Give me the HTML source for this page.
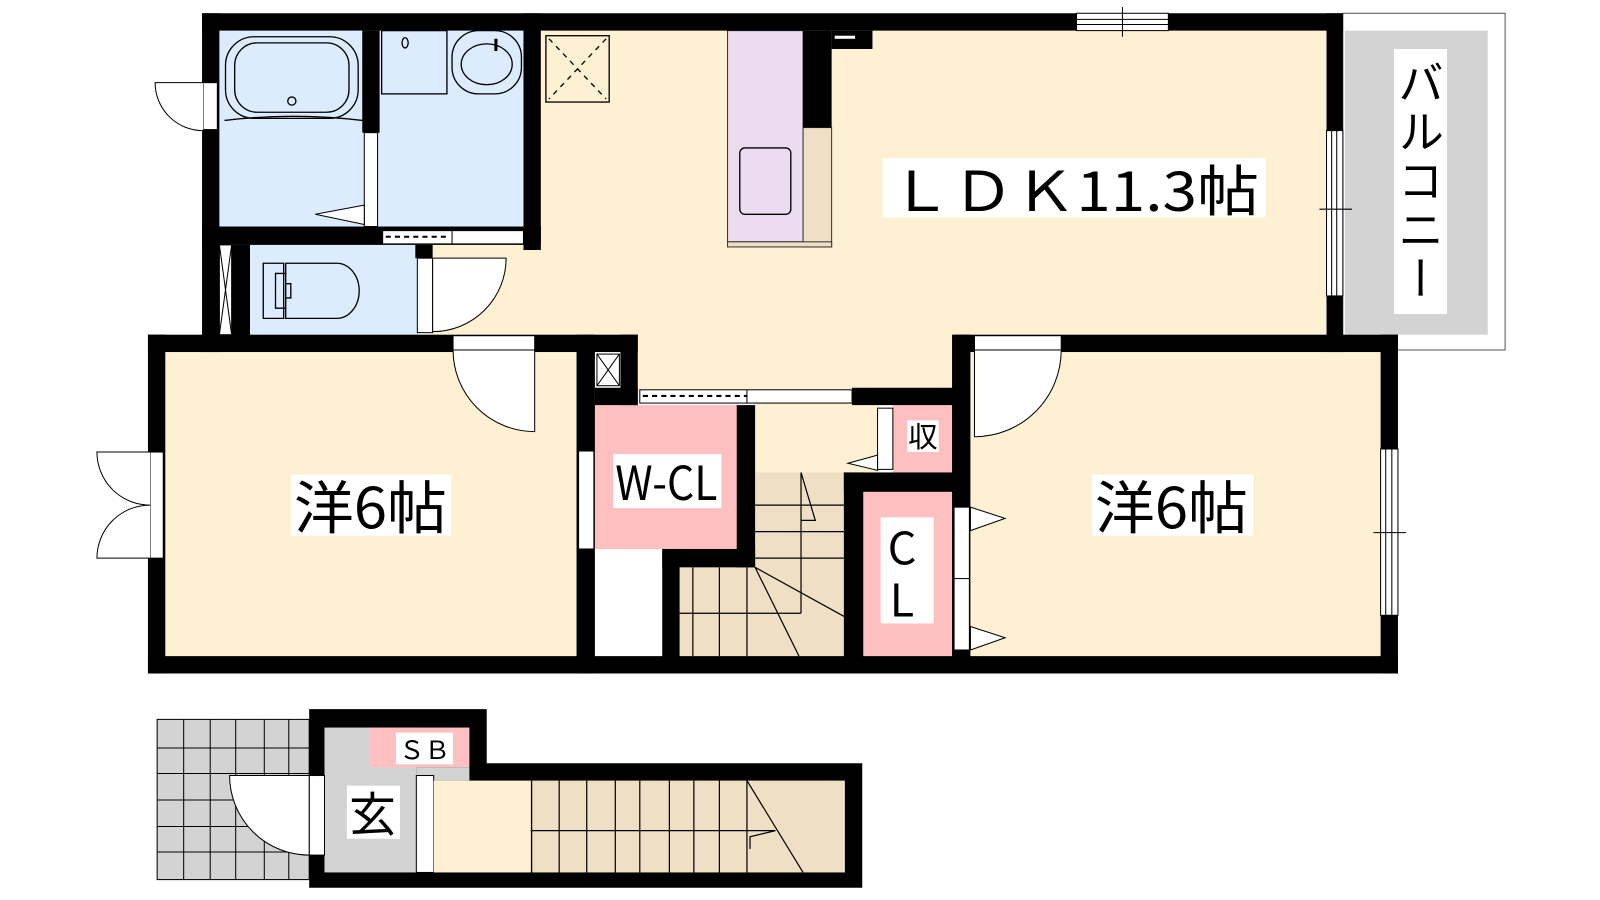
<!DOCTYPE html>
<html><head><meta charset="utf-8"><style>
html,body{margin:0;padding:0;background:#fff;width:1600px;height:900px;overflow:hidden;position:relative}
svg{position:absolute;left:0;top:0}
.bal{position:absolute;left:1394px;top:49px;width:53px;height:265px;background:#fff;writing-mode:vertical-rl;font-family:"Noto Sans CJK JP",sans-serif;font-size:46px;line-height:53px;text-align:center;letter-spacing:3px;color:#000}
</style></head><body>
<svg width="1600" height="900" viewBox="0 0 1568 882" xmlns="http://www.w3.org/2000/svg" font-family="'Liberation Sans','Noto Sans CJK JP',sans-serif">
<g stroke="none">
<rect x="1316" y="13" width="159" height="330" fill="#fff" stroke="#555" stroke-width="1"/>
<rect x="1318" y="30" width="140" height="298" fill="#d3d3d3"/>
<rect x="215" y="30" width="300" height="195" fill="#dcebfd"/>
<rect x="245" y="240" width="165" height="88" fill="#dcebfd"/>
<rect x="530" y="30" width="772" height="300" fill="#fef1d3"/>
<rect x="424" y="240" width="110" height="90" fill="#fef1d3"/>
<rect x="625" y="328" width="312" height="55" fill="#fef1d3"/>
<rect x="740" y="395" width="122" height="70" fill="#fef1d3"/>
<rect x="162" y="345" width="405" height="300" fill="#fef1d3"/>
<rect x="951" y="345" width="404" height="300" fill="#fef1d3"/>
<rect x="583" y="397" width="140" height="141" fill="#fdbfbf"/>
<rect x="875" y="397" width="60" height="68" fill="#fdbfbf"/>
<rect x="846" y="482" width="89" height="163" fill="#fdbfbf"/>
<rect x="583" y="538" width="66" height="105" fill="#fff"/>
<rect x="740" y="463" width="88" height="182" fill="#efdfc5"/>
<rect x="666" y="556" width="80" height="89" fill="#efdfc5"/>
<rect x="713" y="30" width="74" height="207" fill="#ebdcf2" stroke="#333" stroke-width="1"/>
<rect x="787" y="125" width="28" height="117" fill="#efdfc5" stroke="#333" stroke-width="1"/>
<rect x="713" y="237" width="102" height="5" fill="#efdfc5" stroke="#333" stroke-width="1"/>
</g>
<g fill="none" stroke="#000" stroke-width="1.3">
<rect x="725" y="145" width="50" height="65" rx="5"/>
<rect x="535" y="35" width="62" height="65"/>
<path d="M538 38 L594 97 M594 38 L538 97" stroke-dasharray="5 5"/>
<rect x="221" y="36" width="130" height="80" rx="28"/>
<rect x="230" y="42" width="112" height="68" rx="22"/>
<circle cx="286" cy="99" r="4"/>
<path d="M220 118 Q286 110 355 118"/>
<rect x="374" y="30" width="64" height="62"/>
<ellipse cx="397" cy="42" rx="3" ry="5"/>
<rect x="443" y="30" width="68" height="62" rx="26"/>
<ellipse cx="477" cy="63" rx="25" ry="20"/>
<line x1="486" y1="38" x2="486" y2="50" stroke-width="3"/>
<path d="M258 258 h20 v54 h-20 z M270 268 h10 v34 h-10 z M280 258 h50 a22 27 0 0 1 0 54 h-50 v-20 h5 v-14 h-5 z"/>
</g>
<g fill="#000">
<rect x="198" y="13" width="1118" height="17"/>
<rect x="198" y="13" width="17" height="332"/>
<rect x="227" y="240" width="18" height="90"/>
<rect x="355" y="30" width="17" height="100"/>
<rect x="513" y="13" width="17" height="232"/>
<rect x="198" y="222" width="332" height="18"/>
<rect x="407" y="240" width="17" height="13"/>
<rect x="787" y="30" width="28" height="95"/>
<rect x="815" y="30" width="40" height="18"/>
<rect x="1300" y="13" width="16" height="332"/>
<rect x="145" y="328" width="480" height="17"/>
<rect x="935" y="328" width="435" height="17"/>
<rect x="145" y="328" width="17" height="332"/>
<rect x="1353" y="328" width="17" height="332"/>
<rect x="145" y="643" width="1225" height="17"/>
<rect x="565" y="328" width="18" height="332"/>
<rect x="608" y="328" width="17" height="69"/>
<rect x="583" y="380" width="42" height="17"/>
<rect x="835" y="380" width="100" height="17"/>
<rect x="722" y="397" width="18" height="159"/>
<rect x="649" y="538" width="91" height="18"/>
<rect x="649" y="538" width="17" height="110"/>
<rect x="827" y="463" width="19" height="185"/>
<rect x="827" y="463" width="108" height="19"/>
<rect x="933" y="328" width="18" height="320"/>
<path d="M303 695 H477 V748 H845 V870 H303 Z"/>
</g>
<rect x="318" y="713" width="90" height="142" fill="#d3d3d3"/>
<rect x="362" y="713" width="98" height="39" fill="#fdbfbf"/>
<rect x="408" y="752" width="52" height="13" fill="#d3d3d3"/>
<rect x="408" y="760" width="17" height="95" fill="#fff" stroke="#000" stroke-width="1"/>
<rect x="425" y="765" width="95" height="90" fill="#fef1d3"/>
<rect x="520" y="765" width="308" height="90" fill="#efdfc5"/>
<g stroke="#000" stroke-width="1.2" fill="none">
<path d="M521 765V855M548 765V855M575 765V855M603 765V855M627 765V855M656 765V855M680 765V855M705 765V855M732 765V855M520 814H760M732 765L787 855M735 832V820L760 814"/>
<path d="M740 495H827M740 521H827M740 547H827M785 463V601M666 601H785M679 556V643M705 556V643M732 556V643M740 556L827 604M740 556L783 643M785 463L799 510H785"/>
</g>
<rect x="154" y="705" width="149" height="157" fill="#d3d3d3" stroke="#000" stroke-width="1"/>
<g stroke="#000" stroke-width="1">
<path d="M180 705V862M206 705V862M231 705V862M259 705V862M283 705V862M154 733H303M154 758H303M154 784H303M154 810H303M154 835H303"/>
</g>
<g fill="#fff" stroke="#000" stroke-width="1">
<rect x="1055" y="13" width="90" height="17"/>
<path d="M1055 19H1145M1055 24H1145M1100 7V36" fill="none"/>
<rect x="1300" y="128" width="16" height="162"/>
<path d="M1305 128V290M1310 128V290M1293 205H1325" fill="none"/>
<rect x="1353" y="440" width="17" height="163"/>
<path d="M1358 440V603M1364 440V603M1346 522H1378" fill="none"/>
<rect x="199" y="81" width="14" height="46"/>
<rect x="357" y="130" width="13" height="92"/>
<rect x="375" y="226" width="138" height="13"/>
<path d="M378 232H440" stroke-dasharray="5 4" fill="none" stroke-width="2"/>
<line x1="443" y1="226" x2="443" y2="239"/>
<rect x="215" y="240" width="12" height="88"/>
<path d="M215 240L227 328M227 240L215 328" fill="none"/>
<rect x="409" y="253" width="15" height="73"/>
<rect x="444" y="329" width="80" height="14"/>
<rect x="955" y="329" width="85" height="14"/>
<rect x="147" y="443" width="13" height="104"/>
<rect x="567" y="442" width="15" height="96"/>
<rect x="585" y="347" width="22" height="31"/>
<path d="M585 347L607 378M607 347L585 378" fill="none"/>
<rect x="627" y="382" width="208" height="13"/>
<path d="M630 388H732" stroke-dasharray="5 4" fill="none" stroke-width="2"/>
<line x1="732" y1="382" x2="732" y2="395"/>
<rect x="860" y="400" width="15" height="60"/>
<rect x="935" y="497" width="15" height="140"/>
<line x1="935" y1="567" x2="950" y2="567"/>
<rect x="303" y="760" width="15" height="78"/>
<path d="M199 81H152A47 47 0 0 0 199 128"/>
<path d="M424 253H496A72 72 0 0 1 424 325Z"/>
<path d="M444 343A80 80 0 0 0 524 423V343Z"/>
<path d="M1040 343A85 85 0 0 1 955 428V343Z"/>
<path d="M147 443H95A52 52 0 0 0 147 495A52 52 0 0 0 95 547H147"/>
<path d="M303 760H225A78 78 0 0 0 303 838Z"/>
<path d="M309 210L357 201V220Z"/>
<path d="M860 446L831 454L860 461Z"/>
<path d="M951 497L985 508L951 520Z"/>
<path d="M951 614L985 625L951 637Z"/>
</g>
<rect x="818" y="35" width="20" height="3" fill="#fff"/>
<g fill="#fff">
<rect x="865" y="155" width="375" height="58"/>
<rect x="285" y="465" width="157" height="60"/>
<rect x="1070" y="465" width="158" height="60"/>
<rect x="601" y="445" width="106" height="53"/>
<rect x="889" y="412" width="31" height="31"/>
<rect x="863" y="507" width="52" height="104"/>
<rect x="388" y="718" width="56" height="31"/>
<rect x="340" y="770" width="52" height="52"/>
</g>
<g fill="#000" font-family="'Noto Sans CJK JP',sans-serif">
<text x="872" y="207" font-size="54" textLength="362" lengthAdjust="spacingAndGlyphs">ＬＤＫ11.3帖</text>
<text x="288" y="518" font-size="56" textLength="150" lengthAdjust="spacingAndGlyphs">洋6帖</text>
<text x="1073" y="518" font-size="56" textLength="150" lengthAdjust="spacingAndGlyphs">洋6帖</text>
<text x="603" y="490" font-size="46" textLength="100" lengthAdjust="spacingAndGlyphs">W-CL</text>
<text x="890" y="438" font-size="28" textLength="29" lengthAdjust="spacingAndGlyphs">収</text>
<text x="870" y="553" font-size="44">C</text>
<text x="872" y="604" font-size="44">L</text>
<text x="391" y="744" font-size="25" textLength="50" lengthAdjust="spacingAndGlyphs">ＳＢ</text>
<text x="342" y="815" font-size="46">玄</text>
</g>
</svg>
<div class="bal">バルコニー</div>
</body></html>
